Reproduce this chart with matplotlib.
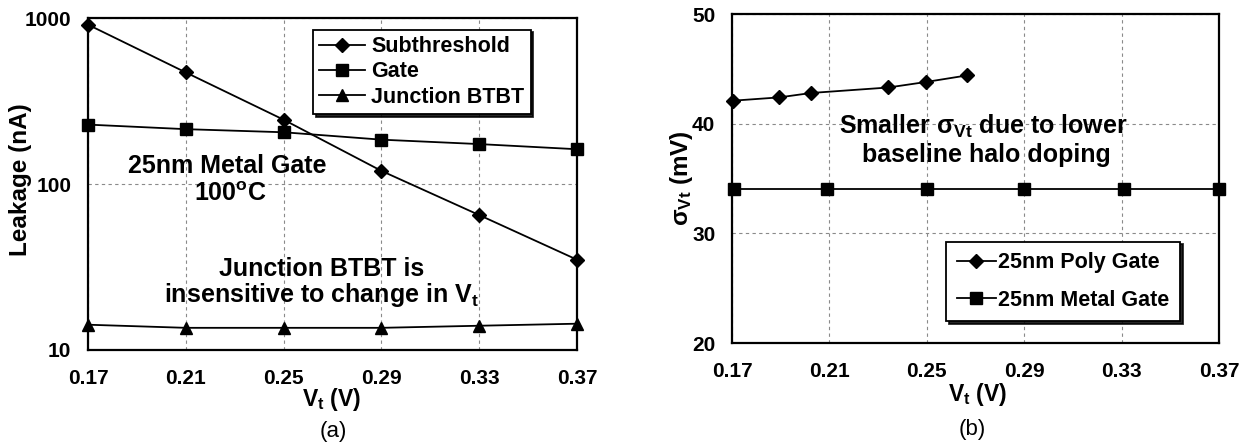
import numpy as np
import matplotlib
matplotlib.use('Agg')
import matplotlib.pyplot as plt

plt.rcParams['font.family'] = ['Liberation Sans', 'DejaVu Sans']
plt.rcParams['mathtext.default'] = 'regular'

# panel (a): leakage vs Vt
vt = [0.17, 0.21, 0.25, 0.29, 0.33, 0.37]
subthreshold = [912, 470, 244, 120, 65, 35]
gate = [228, 214, 205, 185, 174, 162]
junction = [14.2, 13.6, 13.6, 13.6, 14.0, 14.4]

# panel (b): sigma Vt vs Vt
poly_vt = [0.1706, 0.1895, 0.2025, 0.2342, 0.2496, 0.2665]
poly_sigma = [42.1, 42.4, 42.8, 43.3, 43.8, 44.4]
metal_vt = [0.171, 0.209, 0.25, 0.29, 0.331, 0.37]
metal_sigma = [34.0, 34.0, 34.0, 34.0, 34.0, 34.0]

xticks = [0.17, 0.21, 0.25, 0.29, 0.33, 0.37]
xticklabels = ['0.17', '0.21', '0.25', '0.29', '0.33', '0.37']

fig = plt.figure(figsize=(12.5, 4.45), dpi=100)
ax1 = fig.add_axes([0.0704, 0.2135, 0.3912, 0.746])
ax2 = fig.add_axes([0.5856, 0.2292, 0.3896, 0.7393])

grid_kw = dict(color='#8a8a8a', linestyle=(0, (3, 3)), linewidth=0.8)
tick_kw = dict(labelsize=15, length=0)


def style_axes(ax):
    for s in ax.spines.values():
        s.set_linewidth(1.6)
    ax.set_xlim(0.17, 0.37)
    ax.set_xticks(xticks)
    ax.set_xticklabels(xticklabels, fontweight='bold')
    ax.tick_params(axis='x', pad=14, **tick_kw)
    ax.tick_params(axis='y', pad=12, **tick_kw)
    for lab in ax.get_yticklabels():
        lab.set_fontweight('bold')
    ax.set_axisbelow(True)


def legend_box(ax, **kw):
    leg = ax.legend(prop={'weight': 'bold', 'size': 15.5}, fancybox=False,
                    edgecolor='black', framealpha=1, borderaxespad=0,
                    shadow={'color': 'black', 'alpha': 0.85}, **kw)
    leg.get_frame().set_linewidth(1.3)
    return leg


# --- (a)
line_kw = dict(color='black', linewidth=1.3, clip_on=False, zorder=3)
ax1.plot(vt, subthreshold, marker='D', markersize=7.5, label='Subthreshold', **line_kw)
ax1.plot(vt, gate, marker='s', markersize=8, label='Gate', **line_kw)
ax1.plot(vt, junction, marker='^', markersize=8.5, label='Junction BTBT', **line_kw)
ax1.set_yscale('log')
ax1.set_ylim(10, 1000)
ax1.set_yticks([10, 100, 1000])
ax1.set_yticklabels(['10', '100', '1000'])
ax1.yaxis.set_minor_locator(matplotlib.ticker.NullLocator())
style_axes(ax1)
ax1.xaxis.grid(True, **grid_kw)
ax1.yaxis.grid(True, **grid_kw)
ax1.set_ylabel('Leakage (nA)', fontsize=17.5, fontweight='bold', va='center')
ax1.yaxis.set_label_coords(-0.139, 0.512)
ax1.set_xlabel('V$_t$ (V)', fontsize=16.5, fontweight='bold', va='center')
ax1.xaxis.set_label_coords(0.498, -0.15)
legend_box(ax1, loc='upper left', bbox_to_anchor=(0.46, 0.965),
           labelspacing=0.2, borderpad=0.3, handlelength=2.1, handletextpad=0.3)
ax1.text(0.284, 0.553, '25nm Metal Gate', transform=ax1.transAxes, ha='center', va='center',
         fontsize=18, fontweight='bold')
ax1.text(0.292, 0.469, '100$^o$C', transform=ax1.transAxes, ha='center', va='center',
         fontsize=18, fontweight='bold')
ax1.text(0.478, 0.243, 'Junction BTBT is', transform=ax1.transAxes, ha='center', va='center',
         fontsize=18, fontweight='bold')
ax1.text(0.478, 0.166, 'insensitive to change in V$_t$', transform=ax1.transAxes,
         ha='center', va='center', fontsize=18, fontweight='bold')

# --- (b)
ax2.plot(poly_vt, poly_sigma, marker='D', markersize=7, label='25nm Poly Gate', **line_kw)
ax2.plot(metal_vt, metal_sigma, marker='s', markersize=9, label='25nm Metal Gate', **line_kw)
ax2.set_ylim(20, 50)
ax2.set_yticks([20, 30, 40, 50])
style_axes(ax2)
ax2.grid(True, **grid_kw)
ax2.set_ylabel('σ$_{Vt}$ (mV)', fontsize=17.5, fontweight='bold', va='center')
ax2.yaxis.set_label_coords(-0.103, 0.50)
ax2.set_xlabel('V$_t$ (V)', fontsize=16.5, fontweight='bold', va='center')
ax2.xaxis.set_label_coords(0.505, -0.158)
legend_box(ax2, loc='lower left', bbox_to_anchor=(0.44, 0.066),
           labelspacing=0.75, borderpad=0.5, handlelength=1.8, handletextpad=0.1)
ax2.text(0.517, 0.657, 'Smaller σ$_{Vt}$ due to lower', transform=ax2.transAxes,
         ha='center', va='center', fontsize=18, fontweight='bold')
ax2.text(0.523, 0.571, 'baseline halo doping', transform=ax2.transAxes,
         ha='center', va='center', fontsize=18, fontweight='bold')

fig.text(333 / 1250, 1 - 432 / 445, '(a)', ha='center', va='center', fontsize=16)
fig.text(972 / 1250, 1 - 430 / 445, '(b)', ha='center', va='center', fontsize=16)

fig.savefig('out.png', dpi=100)
